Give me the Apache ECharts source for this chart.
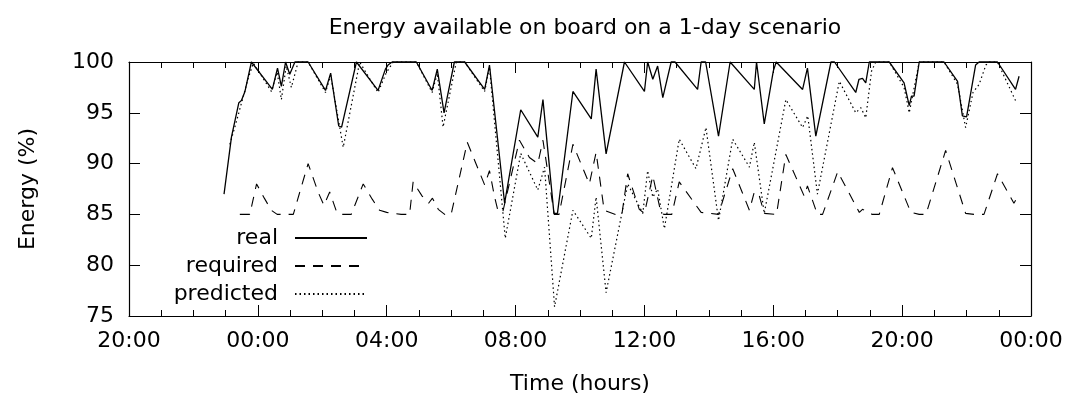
<!DOCTYPE html>
<html>
<head>
<meta charset="utf-8">
<script src="https://cdn.jsdelivr.net/npm/echarts@6/dist/echarts.min.js"></script>
<style>
  html, body { margin: 0; background: #fff; }
  #chart { width: 1068px; height: 400px; }
</style>
</head>
<body>
<div id="chart"></div>
<script>
// time is in hours after 20:00 of the first day (axis runs 20:00 -> 00:00 two days later)
const realTime = [2.95, 3.18, 3.41, 3.49, 3.6, 3.8, 4.45, 4.61, 4.73, 4.86, 4.99, 5.15, 5.56, 6.1, 6.26, 6.51, 6.6, 7.06, 7.73, 7.96, 8.04, 8.17, 8.92, 9.41, 9.57, 9.78, 10.1, 10.42, 11.04, 11.19, 11.66, 12.16, 12.69, 12.85, 13.19, 13.3, 13.78, 14.35, 14.5, 14.81, 15.38, 16.0, 16.1, 16.26, 16.41, 16.57, 16.83, 16.95, 17.65, 17.76, 17.9, 18.3, 18.66, 19.41, 19.48, 19.72, 20.0, 20.09, 20.91, 21.06, 21.32, 21.79, 21.9, 22.56, 22.66, 22.77, 22.87, 22.98, 23.6, 24.06, 24.22, 24.29, 24.37, 24.53, 25.3, 25.72, 25.87, 26.0, 26.28, 26.39, 26.96, 27.52, 27.63];
const realEnergy = [87.0, 92.6, 96.0, 96.2, 97.1, 100, 97.3, 99.4, 97.6, 100, 98.8, 100, 100, 97.2, 98.9, 93.7, 93.6, 100, 97.2, 99.3, 99.7, 100, 100, 97.2, 99.3, 95.0, 100, 100, 97.3, 99.7, 86.1, 95.3, 92.6, 96.3, 85.1, 85.1, 97.1, 94.4, 99.3, 90.95, 100, 97.1, 100, 98.3, 99.6, 96.5, 100, 100, 97.3, 100, 100, 92.7, 100, 97.3, 100, 93.9, 99.1, 100, 97.3, 99.4, 92.7, 100, 100, 97.0, 98.3, 98.4, 97.95, 100, 100, 97.95, 95.7, 96.65, 96.65, 100, 100, 98.1, 94.7, 94.6, 99.7, 100, 100, 97.3, 98.6];

const reqTime = [3.44, 3.75, 3.96, 4.2, 4.42, 4.6, 5.1, 5.56, 5.87, 6.05, 6.23, 6.45, 6.6, 6.9, 7.27, 7.55, 7.78, 8.0, 8.45, 8.71, 8.82, 9.1, 9.3, 9.42, 9.6, 9.8, 10.0, 10.5, 11.04, 11.19, 11.35, 11.45, 11.6, 12.12, 12.43, 12.69, 12.85, 13.2, 13.35, 13.78, 14.29, 14.5, 14.75, 15.1, 15.3, 15.48, 15.84, 16.0, 16.26, 16.51, 16.6, 16.85, 17.08, 17.76, 18.3, 18.74, 19.26, 19.41, 19.55, 19.72, 20.1, 20.39, 20.96, 21.06, 21.37, 21.53, 22.0, 22.67, 22.77, 23.07, 23.29, 23.7, 24.27, 24.53, 24.74, 25.35, 25.97, 26.23, 26.54, 26.96, 27.47, 27.63];
const reqEnergy = [85, 85, 88.0, 86.6, 85.4, 85, 85, 90.0, 87.2, 85.9, 87.2, 85.2, 85, 85, 88.0, 86.5, 85.4, 85.2, 85, 85, 88.2, 86.8, 86.1, 86.6, 85.5, 85, 85, 92.1, 87.9, 89.3, 86.7, 85.4, 85.2, 92.3, 90.6, 90.0, 92.3, 85, 85, 91.9, 88.0, 91.1, 85.4, 85, 85, 89.0, 85.5, 85.1, 88.8, 85.2, 85, 85, 88.2, 85.2, 85, 89.5, 85.4, 87.2, 87.0, 85.1, 85, 90.9, 86.8, 87.8, 85, 85, 89.2, 85.2, 85.5, 85, 85, 89.6, 85.2, 85, 85, 91.3, 85.1, 85, 85, 89.0, 86.1, 87.0];

const predTime = [3.13, 3.34, 3.7, 3.86, 4.42, 4.6, 4.73, 4.88, 5.04, 5.25, 5.56, 6.1, 6.26, 6.65, 7.16, 7.73, 7.98, 8.2, 8.92, 9.41, 9.57, 9.75, 10.16, 10.42, 11.04, 11.19, 11.68, 12.16, 12.69, 12.9, 13.21, 13.78, 14.35, 14.5, 14.81, 15.48, 15.95, 16.1, 16.26, 16.41, 16.62, 17.08, 17.6, 17.91, 18.3, 18.74, 19.26, 19.41, 19.72, 20.39, 20.91, 21.07, 21.37, 22.05, 22.56, 22.72, 22.87, 23.05, 23.18, 23.6, 24.06, 24.22, 24.53, 25.3, 25.72, 25.97, 26.2, 26.39, 26.6, 26.7, 26.96, 27.52];
const predEnergy = [91.9, 94.2, 98.4, 99.9, 97.1, 99.0, 96.3, 99.6, 97.5, 100, 100, 97.0, 98.7, 91.6, 100, 97.0, 98.9, 100, 100, 97.0, 98.9, 93.6, 100, 100, 97.1, 99.5, 82.65, 91.0, 87.4, 89.65, 75.9, 85.4, 82.65, 86.7, 77.3, 88.0, 85.1, 89.3, 86.7, 87.5, 83.6, 92.4, 89.5, 93.55, 84.4, 92.4, 89.65, 92.1, 85.1, 96.3, 93.55, 94.7, 87.0, 98.1, 95.0, 95.5, 94.5, 99.1, 100, 100, 97.5, 95.0, 100, 100, 97.8, 93.55, 97.0, 97.8, 99.7, 100, 100, 96.2];

const FONT = 'DejaVu Sans';
const pairs = (t, v) => t.map((x, i) => [x, v[i]]);
const hourLabel = v => String((20 + v) % 24).padStart(2, '0') + ':00';

const txt = { color: '#000', fontFamily: FONT, fontSize: 22 };
const frame = { show: true, onZero: false, lineStyle: { color: '#000', width: 1.2 } };
const ticks = { show: true, inside: true, length: 11, lineStyle: { color: '#000', width: 1 } };
const minor = { show: true, splitNumber: 4, length: 6, lineStyle: { color: '#000', width: 1 } };

const chart = echarts.init(document.getElementById('chart'));
chart.setOption({
  animation: false,
  backgroundColor: '#fff',
  title: {
    text: 'Energy available on board on a 1-day scenario',
    left: 580, top: 12, textAlign: 'center',
    textStyle: Object.assign({ fontWeight: 'normal' }, txt)
  },
  grid: { left: 129, right: 37, top: 62, bottom: 82 },
  legend: {
    data: ['real', 'required', 'predicted'],
    orient: 'vertical', align: 'right',
    right: 700, top: 227, padding: 0,
    itemWidth: 72, itemHeight: 14, itemGap: 6,
    // hide the marker the line icon puts in its middle
    itemStyle: { opacity: 0 },
    textStyle: Object.assign({ lineHeight: 22, padding: [0, 12, 0, 0] }, txt)
  },
  xAxis: [
    {
      type: 'value', position: 'bottom', min: 0, max: 28, interval: 4,
      axisLine: frame, axisTick: ticks, minorTick: minor,
      splitLine: { show: false },
      axisLabel: Object.assign({ formatter: hourLabel, margin: 14 }, txt),
      name: 'Time (hours)', nameLocation: 'middle', nameGap: 57,
      nameTextStyle: txt
    },
    {
      type: 'value', position: 'top', min: 0, max: 28, interval: 4,
      axisLine: frame, axisTick: ticks, minorTick: minor,
      splitLine: { show: false }, axisLabel: { show: false }
    }
  ],
  yAxis: [
    {
      type: 'value', position: 'left', min: 75, max: 100, interval: 5,
      axisLine: frame, axisTick: ticks,
      splitLine: { show: false },
      axisLabel: Object.assign({ margin: 15 }, txt),
      name: 'Energy (%)', nameLocation: 'middle', nameGap: 90, nameRotate: 90,
      nameTextStyle: txt
    },
    {
      type: 'value', position: 'right', min: 75, max: 100, interval: 5,
      axisLine: frame, axisTick: ticks,
      splitLine: { show: false }, axisLabel: { show: false }
    }
  ],
  series: [
    {
      name: 'real', type: 'line', data: pairs(realTime, realEnergy),
      symbol: 'none', clip: false,
      itemStyle: { color: '#000' },
      lineStyle: { color: '#000', width: 1.3, type: 'solid' }
    },
    {
      name: 'required', type: 'line', data: pairs(reqTime, reqEnergy),
      symbol: 'none', clip: false,
      itemStyle: { color: '#000' },
      lineStyle: { color: '#000', width: 1.1, type: [10, 8] }
    },
    {
      name: 'predicted', type: 'line', data: pairs(predTime, predEnergy),
      symbol: 'none', clip: false,
      itemStyle: { color: '#000' },
      lineStyle: { color: '#000', width: 1.2, type: [1.5, 3] }
    }
  ]
});
</script>
</body>
</html>
